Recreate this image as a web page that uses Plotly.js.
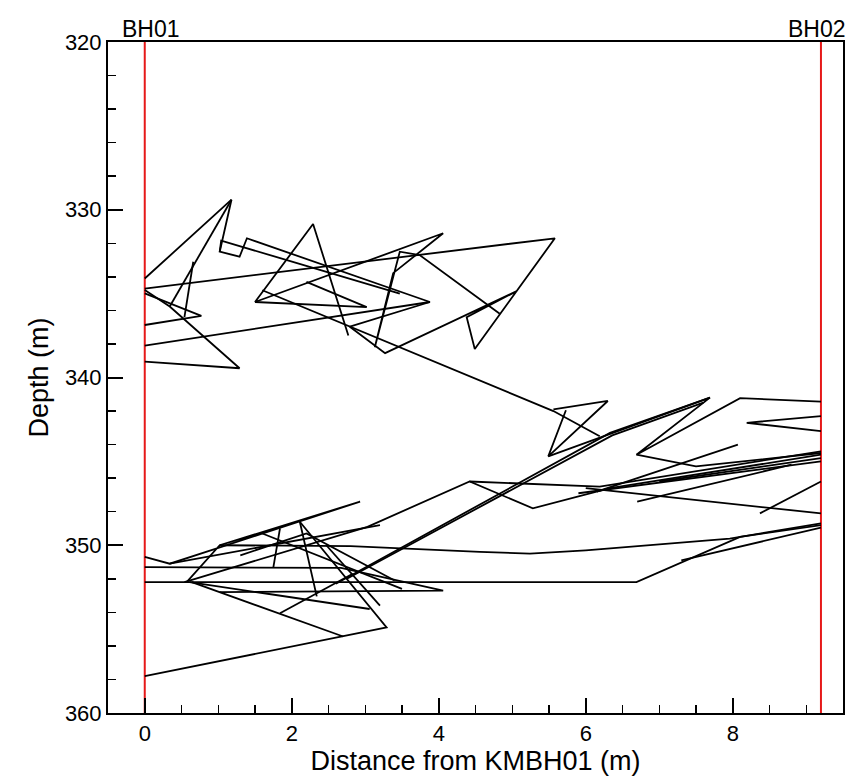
<!DOCTYPE html>
<html>
<head>
<meta charset="utf-8">
<script src="https://cdn.plot.ly/plotly-3.0.1.min.js"></script>
<style>html,body{margin:0;padding:0;background:#fff;}#chart{width:855px;height:783px;}</style>
</head>
<body>
<div id="chart"></div>
<script>
// Boreholes
const boreholeNames = ['BH01', 'BH02'];
const boreholeX = [0, 9.2];
const depthRange = [320, 360];

// Upper cluster of paths (distance m, depth m); null separates sub-paths
const upperX = [0,1.18,1.02,1.29,1.39,3.88,0, null, 3.47,1.04,1.02, null, 0,0.77,0, null,
  0,1.29,0.34,0, null, 0.34,1.18, null, 0.66,0.54, null,
  0,5.58,4.49,4.38,5.06,3.27,2.79,3.88, null,
  2.77,2.29,1.5,4.06,3.38,3.13,3.47,3.74,4.83, null, 1.5,3.02,2.2];
const upperY = [334.1,329.4,332.5,332.8,331.7,335.5,338.1, null, 335.0,331.84,332.5, null, 334.98,336.33,336.87, null,
  339.05,339.45,335.77,334.78, null, 335.77,329.4, null, 333.1,336.4, null,
  334.7,331.7,338.3,336.4,334.85,338.55,336.97,335.5, null,
  337.5,330.85,335.5,331.4,333.78,338.2,332.5,332.7,336.2, null, 335.5,335.8,334.3];

// Descent and middle triangle, upper right wedges
const middleX = [1.6,5.56,6.19, null, 5.56,6.3,5.49,5.73, null, 5.49,7.69,6.69,8.1,9.2, null, 9.2,8.19,9.2];
const middleY = [334.8,342.0,343.5, null, 341.9,341.4,344.7,341.95, null, 344.7,341.2,344.6,341.23,341.44, null, 342.3,342.7,343.2];

// Lower cluster
const lowerX = [0,3.29,2.11, null, 2.7,0.64, null, 0,0.34,2.93,1.02,0.57, null,
  1.02,2.8,4.56,5.24,6.0,7.96,9.2, null, 0,6.69,8.1,9.2, null, 7.3,9.2, null,
  0,2.67,4.06,1.02, null, 0.54,3.03,4.42,5.28,6.33,9.2, null, 4.42,6.19,9.2, null,
  2.6,6.33,7.69, null, 2.75,6.36,7.6, null, 1.84,1.75, null, 0.61,3.06, null,
  2.47,3.2, null, 1.84,2.83, null, 6.15,8.07, null, 8.37,9.2, null, 6.0,9.2, null,
  0.34,3.2, null, 2.11,2.34, null, 1.6,3.5, null, 5.9,9.2, null, 6.7,8.8, null,
  6.69,7.5,9.2, null, 7.0,9.2, null, 1.3,2.2,3.4];
const lowerY = [357.8,354.9,348.6, null, 355.44,352.2, null, 350.7,351.1,347.4,350.0,352.2, null,
  350.0,350.05,350.4,350.5,350.3,349.6,348.7, null, 352.2,352.2,349.5,348.8, null, 350.9,348.95, null,
  351.3,351.35,352.7,352.8, null, 352.2,348.9,346.2,347.8,346.6,344.6, null, 346.2,346.5,344.4, null,
  352.3,343.3,341.2, null, 352.0,343.45,341.5, null, 349.0,351.3, null, 352.2,353.8, null,
  350.0,353.6, null, 354.05,351.7, null, 346.8,344.0, null, 348.1,346.2, null, 346.6,348.1, null,
  351.1,348.8, null, 348.6,353.05, null, 349.3,352.6, null, 346.9,345.0, null, 347.4,345.2, null,
  344.6,345.3,344.5, null, 346.2,344.8, null, 350.6,349.3,352.1];

const FONT = 'Liberation Sans, Arial, Helvetica, sans-serif';
const pathLine = {color: 'black', width: 1.8};

const traces = [];
boreholeX.forEach(function (bx) {
  traces.push({x: [bx, bx], y: depthRange, mode: 'lines', line: {color: 'rgb(230,25,25)', width: 2}, hoverinfo: 'skip'});
});
[[upperX, upperY], [middleX, middleY], [lowerX, lowerY]].forEach(function (p) {
  traces.push({x: p[0], y: p[1], mode: 'lines', line: pathLine, connectgaps: false, hoverinfo: 'skip'});
});

const annotations = boreholeNames.map(function (name, i) {
  return {x: boreholeX[i], y: 1, xref: 'x', yref: 'paper', yanchor: 'bottom', xanchor: 'center',
    xshift: i === 0 ? 6 : -4, yshift: -2, text: name, showarrow: false, font: {family: FONT, size: 23, color: 'black'}};
});

const axisCommon = {
  showgrid: false, zeroline: false, showline: true, linecolor: 'black', linewidth: 2, mirror: true,
  ticks: 'inside', ticklen: 15, tickwidth: 2, tickcolor: 'black',
  tickfont: {family: FONT, size: 22, color: 'black'}
};

const layout = {
  width: 855, height: 783,
  margin: {l: 108, r: 12, t: 42, b: 70},
  paper_bgcolor: 'white', plot_bgcolor: 'white',
  showlegend: false,
  font: {family: FONT, color: 'black'},
  xaxis: Object.assign({}, axisCommon, {
    range: [-0.5, 9.5], tick0: 0, dtick: 2,
    minor: {dtick: 0.5, tick0: 0, ticks: 'inside', ticklen: 8, tickwidth: 1.5, tickcolor: 'black'},
    title: {text: 'Distance from KMBH01 (m)', font: {family: FONT, size: 27, color: 'black'}, standoff: 6}
  }),
  yaxis: Object.assign({}, axisCommon, {
    range: [360, 320], tick0: 320, dtick: 10,
    minor: {dtick: 2, tick0: 320, ticks: 'inside', ticklen: 8, tickwidth: 1.5, tickcolor: 'black'},
    title: {text: 'Depth (m)', font: {family: FONT, size: 27, color: 'black'}, standoff: 8}
  }),
  annotations: annotations
};

Plotly.newPlot('chart', traces, layout, {displayModeBar: false, staticPlot: true});
</script>
</body>
</html>
